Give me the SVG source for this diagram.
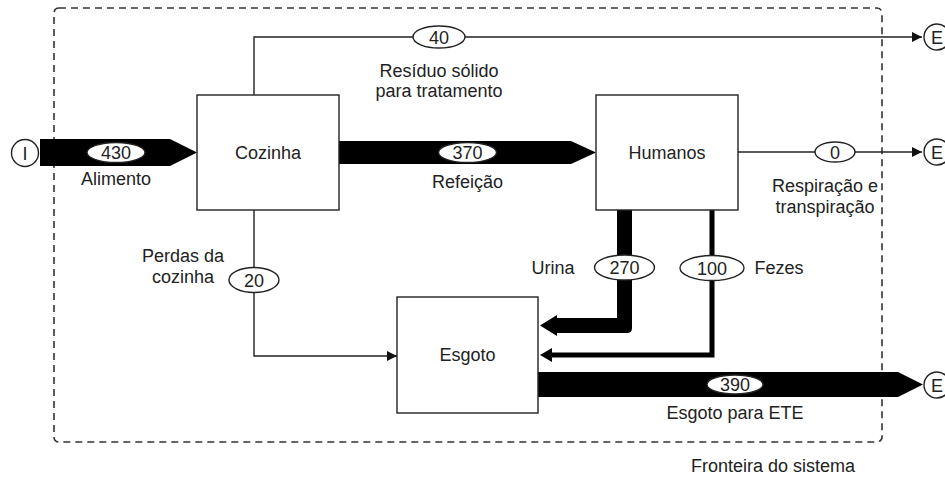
<svg xmlns="http://www.w3.org/2000/svg" width="945" height="481" viewBox="0 0 945 481">
  <style>
    text { font-family: "Liberation Sans", Arial, sans-serif; font-size: 18px; fill: #222; }
    .mid { text-anchor: middle; }
    .box { fill: #fff; stroke: #222; stroke-width: 1.4; }
    .thin { fill: none; stroke: #222; stroke-width: 1.4; }
    .flow { fill: #000; stroke: none; }
    .tag { fill: #fff; stroke: #222; stroke-width: 1.4; }
    .term { fill: #fff; stroke: #222; stroke-width: 1.4; }
    .bound { fill: none; stroke: #333; stroke-width: 1.6; stroke-dasharray: 7 5; }
  </style>
  <defs>
    <marker id="tip" viewBox="0 0 10 10" refX="10" refY="5" markerWidth="10" markerHeight="10" markerUnits="userSpaceOnUse" orient="auto">
      <path d="M0,0 L10,5 L0,10 Z" fill="#111"/>
    </marker>
  </defs>

  <!-- system boundary -->
  <g id="boundary">
    <rect class="bound" x="54" y="8" width="828" height="434" rx="5"/>
    <text class="mid" x="773" y="472">Fronteira do sistema</text>
  </g>

  <!-- flows -->
  <g id="connectors">
    <!-- food in -->
    <polygon class="flow" points="40,139 170,139 197,152.5 170,166 40,166"/>
    <!-- meals -->
    <polygon class="flow" points="339,141 571,141 596,152.5 571,164 339,164"/>
    <!-- sewage to treatment -->
    <polygon class="flow" points="538,372 898,372 923,384.5 898,397 538,397"/>
    <!-- urine -->
    <path class="flow" d="M617,210 H632 V328 Q632,333 627,333 H557 V336 L540,325.5 L557,315 V318 H617 Z"/>
    <!-- faeces -->
    <path class="flow" d="M709.5,210 H714.5 V357.5 H552 V362 L540,355 L552,348 V352.5 H709.5 Z"/>
    <!-- solid waste -->
    <polyline class="thin" points="254,95 254,37 922,37" marker-end="url(#tip)"/>
    <!-- respiration -->
    <line class="thin" x1="738" y1="152" x2="922" y2="152" marker-end="url(#tip)"/>
    <!-- kitchen losses -->
    <polyline class="thin" points="254,210 254,356 397,356" marker-end="url(#tip)"/>

    <!-- flow values -->
    <ellipse class="tag" cx="116" cy="152.5" rx="29" ry="10"/>
    <text class="mid" x="116" y="159">430</text>
    <ellipse class="tag" cx="467.5" cy="152.5" rx="29" ry="10"/>
    <text class="mid" x="467.5" y="159">370</text>
    <ellipse class="tag" cx="735" cy="384.5" rx="28" ry="9.5"/>
    <text class="mid" x="735" y="391">390</text>
    <ellipse class="tag" cx="439" cy="37" rx="26" ry="11"/>
    <text class="mid" x="439" y="43.5">40</text>
    <ellipse class="tag" cx="835" cy="152" rx="20" ry="10"/>
    <text class="mid" x="835" y="158.5">0</text>
    <ellipse class="tag" cx="254" cy="280" rx="25" ry="12.5"/>
    <text class="mid" x="254" y="286.5">20</text>
    <ellipse class="tag" cx="624.5" cy="267.5" rx="30" ry="12.5"/>
    <text class="mid" x="624.5" y="274">270</text>
    <ellipse class="tag" cx="712" cy="268" rx="32" ry="12.5"/>
    <text class="mid" x="712" y="274.5">100</text>

    <!-- flow names -->
    <text class="mid" x="116" y="185">Alimento</text>
    <text class="mid" x="467.5" y="188">Refeição</text>
    <text class="mid" x="439" y="77">Resíduo sólido</text>
    <text class="mid" x="439" y="97">para tratamento</text>
    <text class="mid" x="825" y="192">Respiração e</text>
    <text class="mid" x="825" y="213">transpiração</text>
    <text class="mid" x="183" y="262">Perdas da</text>
    <text class="mid" x="183" y="283">cozinha</text>
    <text class="mid" x="553" y="274">Urina</text>
    <text class="mid" x="779" y="274">Fezes</text>
    <text class="mid" x="735" y="419">Esgoto para ETE</text>
  </g>

  <!-- process nodes -->
  <g id="cozinha">
    <rect class="box" x="197" y="95" width="142" height="115"/>
    <text class="mid" x="268" y="158.5">Cozinha</text>
  </g>
  <g id="humanos">
    <rect class="box" x="596" y="95" width="142" height="115"/>
    <text class="mid" x="667" y="158.5">Humanos</text>
  </g>
  <g id="esgoto">
    <rect class="box" x="397" y="297" width="141" height="116"/>
    <text class="mid" x="467.5" y="361">Esgoto</text>
  </g>

  <!-- source and sinks -->
  <g id="entrada">
    <circle class="term" cx="25" cy="153" r="13.5"/>
    <text class="mid" x="25" y="159.5">I</text>
  </g>
  <g id="saida-residuo">
    <circle class="term" cx="937" cy="37" r="13"/>
    <text class="mid" x="937" y="43.5">E</text>
  </g>
  <g id="saida-ar">
    <circle class="term" cx="937" cy="152" r="13"/>
    <text class="mid" x="937" y="158.5">E</text>
  </g>
  <g id="saida-ete">
    <circle class="term" cx="937" cy="385" r="13"/>
    <text class="mid" x="937" y="391.5">E</text>
  </g>
</svg>
